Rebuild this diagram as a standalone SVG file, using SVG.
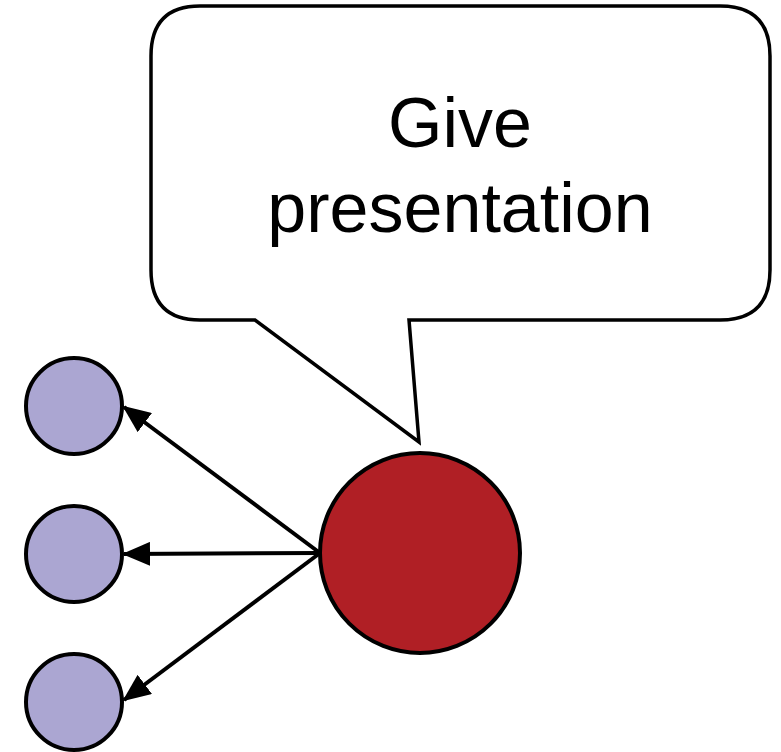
<svg xmlns="http://www.w3.org/2000/svg" width="781" height="752" viewBox="0 0 781 752">
  <style>
    .small { fill: #aba6d2; stroke: #000; stroke-width: 4; }
    .big { fill: #b01f25; stroke: #000; stroke-width: 4; }
    .edge { fill: none; stroke: #000; stroke-width: 4; marker-end: url(#arrow); }
    .bubble { fill: #fff; stroke: #000; stroke-width: 3.5; stroke-linejoin: miter; }
    .label { font-family: "Liberation Sans", Arial, sans-serif; font-size: 70px; fill: #000; text-anchor: middle; }
  </style>
  <defs>
    <marker id="arrow" markerWidth="7" markerHeight="6" refX="6.5" refY="3" orient="auto" markerUnits="strokeWidth">
      <path d="M0,0 L7,3 L0,6 z" fill="#000"/>
    </marker>
  </defs>

  <rect width="781" height="752" fill="#fff"/>

  <!-- speech bubble -->
  <g id="bubble">
    <path class="bubble" d="M200,6 L720,6 Q770,6 770,56 L770,270 Q770,320 720,320 L409,320 L419,442 L255,320 L200,320 Q151,320 151,270 L151,56 Q151,6 200,6 Z"/>
    <text class="label" x="460" y="147">Give</text>
    <text class="label" x="460" y="232">presentation</text>
  </g>

  <!-- connectors -->
  <g id="edges">
    <line class="edge" x1="320" y1="553" x2="124" y2="407"/>
    <line class="edge" x1="320" y1="553" x2="124" y2="554"/>
    <line class="edge" x1="320" y1="553" x2="124" y2="700"/>
  </g>

  <g id="source">
    <circle class="big" cx="420" cy="553" r="100"/>
  </g>
  <g id="target1">
    <circle class="small" cx="74" cy="406" r="48"/>
  </g>
  <g id="target2">
    <circle class="small" cx="74" cy="554" r="48"/>
  </g>
  <g id="target3">
    <circle class="small" cx="74" cy="702" r="48"/>
  </g>
</svg>
